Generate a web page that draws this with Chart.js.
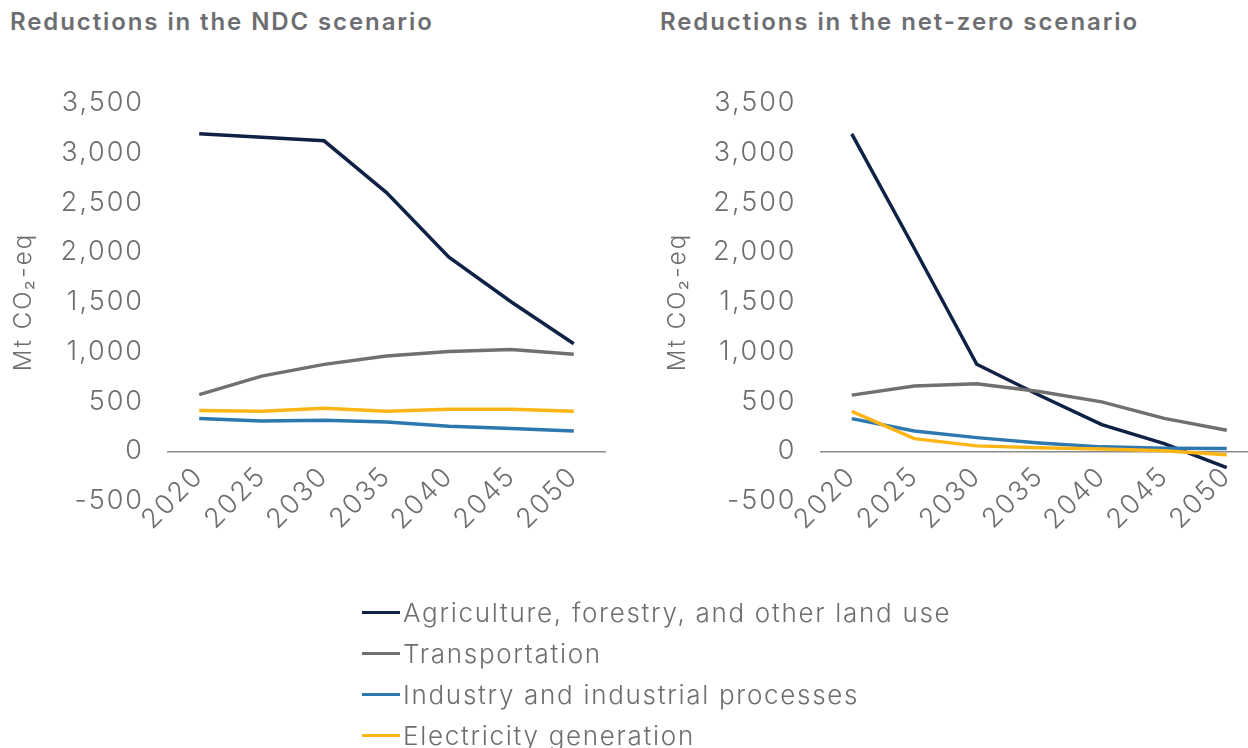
<!DOCTYPE html>
<html>
<head>
<meta charset="utf-8">
<script src="https://cdn.jsdelivr.net/npm/chart.js@4.4.1/dist/chart.umd.min.js"></script>
<style>
  html, body { margin: 0; padding: 0; background: #fff; width: 1248px; height: 748px; overflow: hidden; }
  #wrap { position: relative; width: 1248px; height: 748px; overflow: hidden; font-family: Inter, "Noto Sans", sans-serif; color: #6d6e71; }
  .title { position: absolute; top: 7px; font-size: 24px; font-weight: 600; letter-spacing: 1.9px; color: #6d6e71; white-space: nowrap; }
  .cv { position: absolute; top: 0; }
  #legend { position: absolute; left: 362px; top: 592px; }
  .li { display: flex; align-items: center; height: 41px; font-size: 26px; font-weight: 300; letter-spacing: 1.7px; color: #6d6e71; white-space: nowrap; }
  .sw { width: 38px; height: 3.5px; margin-right: 3px; }
</style>
</head>
<body>
<div id="wrap">
  <div class="title" style="left:10px">Reductions in the NDC scenario</div>
  <div class="title" style="left:660px">Reductions in the net-zero scenario</div>
  <div class="cv" style="left:0px;width:620px;height:600px"><canvas id="c1"></canvas></div>
  <div class="cv" style="left:640px;width:620px;height:600px"><canvas id="c2"></canvas></div>
  <div id="legend"></div>
</div>
<script>
const years = ['2020', '2025', '2030', '2035', '2040', '2045', '2050'];
const seriesNames = ['Agriculture, forestry, and other land use', 'Transportation', 'Industry and industrial processes', 'Electricity generation'];
const seriesColors = ['#0f2144', '#707070', '#2e78b0', '#fdb515'];

const ndcAfolu = [3190, 3155, 3120, 2600, 1950, 1500, 1080];
const ndcTransport = [569, 755, 873, 958, 1002, 1022, 975];
const ndcIndustry = [329, 305, 312, 295, 251, 228, 204];
const ndcElectricity = [409, 402, 432, 402, 422, 422, 402];

const nzAfolu = [3190, 2040, 874, 563, 268, 77, -164];
const nzTransport = [564, 656, 678, 600, 496, 330, 211];
const nzIndustry = [328, 204, 137, 84, 44, 30, 27];
const nzElectricity = [400, 127, 54, 34, 23, 5, -34];

const yTicksMin = -500, yTicksMax = 3500, yStep = 500;
const yTitle = 'Mt CO\u2082-eq';

const font = 'Inter, "Noto Sans", sans-serif';
const grey = '#6d6e71';

const spacing = {
  id: 'spacing',
  beforeUpdate(c) { c.ctx.letterSpacing = '2px'; },
  beforeLayout(c) { c.ctx.letterSpacing = '2px'; },
  beforeDraw(c) { c.ctx.letterSpacing = '2px'; }
};

function makeChart(id, data, yWidth, tickPad, padRight, titlePad) {
  const sets = data.map((d, i) => ({
    label: seriesNames[i], data: d, borderColor: seriesColors[i], backgroundColor: seriesColors[i],
    borderWidth: 3.5, pointRadius: 0, tension: 0, fill: false
  }));
  return new Chart(document.getElementById(id), {
    type: 'line',
    data: { labels: years, datasets: sets.slice().reverse() },
    plugins: [spacing],
    options: {
      responsive: true, maintainAspectRatio: false, animation: false,
      layout: { padding: { top: 103, bottom: 99, left: 0, right: padRight } },
      plugins: { legend: { display: false }, tooltip: { enabled: false } },
      scales: {
        x: {
          position: { y: 0 },
          offset: true,
          grid: { display: false, drawTicks: false },
          border: { display: true, color: '#8a8a8a', width: 1.5 },
          ticks: { color: grey, font: { family: font, size: 27, weight: 300 }, minRotation: 45, maxRotation: 45, padding: 9, autoSkip: false }
        },
        y: {
          min: yTicksMin, max: yTicksMax,
          afterFit: s => { s.width = yWidth; },
          grid: { display: false, drawTicks: false },
          border: { display: false },
          ticks: { stepSize: yStep, color: grey, padding: tickPad, font: { family: font, size: 27, weight: 300 },
                   callback: v => v.toLocaleString('en-US') },
          title: { display: true, text: yTitle, color: grey, font: { family: font, size: 24, weight: 300 }, padding: { top: titlePad, bottom: 0 } }
        }
      }
    }
  });
}

makeChart('c1', [ndcAfolu, ndcTransport, ndcIndustry, ndcElectricity], 168, 24, 15, 9.6);
makeChart('c2', [nzAfolu, nzTransport, nzIndustry, nzElectricity], 180.5, 24, 2, 23);

const lg = document.getElementById('legend');
seriesNames.forEach((n, i) => {
  const row = document.createElement('div'); row.className = 'li';
  const sw = document.createElement('span'); sw.className = 'sw'; sw.style.background = seriesColors[i];
  const tx = document.createElement('span'); tx.textContent = n;
  row.appendChild(sw); row.appendChild(tx); lg.appendChild(row);
});
</script>
</body>
</html>
